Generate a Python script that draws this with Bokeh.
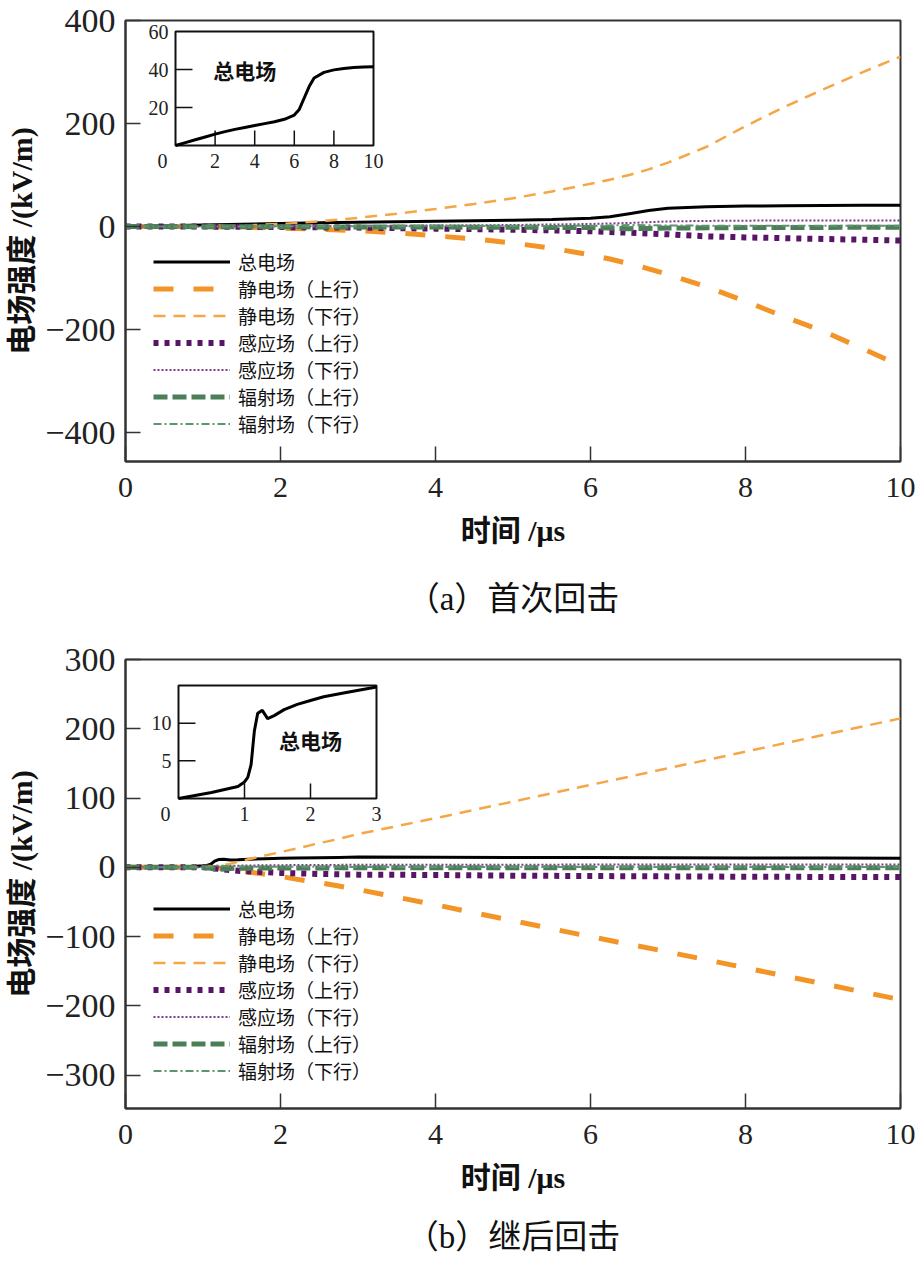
from bokeh.plotting import figure
from bokeh.models import Range1d, Legend, LegendItem, Label, FixedTicker, LinearAxis
from bokeh.layouts import column
from bokeh.core.properties import value
from bokeh.embed import file_html
from bokeh.resources import INLINE

# ---------------- data ----------------
# (a) first return stroke
t_a = [0, 0.5, 1, 1.5, 2, 2.5, 3, 3.5, 4, 4.5, 5, 5.5, 6, 6.25, 6.5, 6.75, 7, 7.5, 8, 8.5, 9, 9.5, 10]
total_a = [0, 1.5, 3, 4.5, 6, 7.3, 8.5, 9.5, 10.5, 11.5, 12.5, 13.8, 16, 19, 25, 31, 35.5, 38.5, 39.8, 40.5, 41, 41.3, 41.5]
static_up_a = [0, 0, 0, -1, -3, -5, -8, -12, -18, -24, -32, -42, -55, -63, -72, -82, -93, -117, -145, -175, -203, -236, -270]
static_down_a = [0, 0, 0.5, 2, 5, 10, 17, 25, 34, 44, 55, 68, 83, 91, 100, 111, 124, 155, 195, 232, 266, 299, 330]
ind_up_a = [0, 0, 0, -0.5, -1, -1.5, -2, -3, -4, -5, -6, -7.5, -9, -10.5, -12, -13.5, -15, -19, -21, -22.5, -24, -25.5, -27]
ind_down_a = [0, 0, 0, 0.3, 0.5, 0.8, 1, 1.5, 2, 2.5, 3, 4, 5, 6, 7, 8.5, 10, 11, 11.5, 11.8, 12, 12, 12]
rad_up_a = [0, 0, -0.2, -0.3, -0.5, -0.6, -0.7, -0.8, -1, -1.2, -1.4, -1.6, -2, -3, -4, -3.5, -3, -2.5, -2, -1.8, -1.6, -1.5, -1.5]
rad_down_a = [0, 0, 0.2, 0.3, 0.5, 0.6, 0.7, 0.8, 1, 1.1, 1.2, 1.3, 1.5, 2.2, 3, 2.6, 2, 1.8, 1.5, 1.5, 1.5, 1.5, 1.5]

# (b) subsequent return stroke
t_b = [0, 0.5, 0.9, 1.0, 1.05, 1.1, 1.15, 1.2, 1.27, 1.35, 1.45, 1.6, 1.8, 2.0, 2.2, 2.5, 2.75, 3, 4, 5, 6, 7, 8, 9, 10]
total_b = [0, 0.8, 1.6, 2.2, 2.8, 4.5, 9, 11.3, 11.7, 10.6, 11, 11.8, 12.5, 13, 13.5, 14, 14.4, 14.8, 14.6, 14.3, 14.1, 13.9, 13.7, 13.5, 13.3]
static_up_b = [0, 0, 0, 0, 0, 0, -0.5, -1, -2, -3, -4.5, -7, -10, -13, -17, -22, -27, -32, -54, -77, -100, -122, -145, -168, -191]
static_down_b = [0, 0, 0, 0, 0, 0.5, 1, 2, 3.5, 5, 8, 12, 17, 22, 27, 35, 41, 48, 71, 95, 119, 143, 167, 191, 215]
ind_up_b = [0, 0, 0, 0, -0.3, -0.8, -1.5, -2, -3, -4, -5, -6, -7, -8, -8.5, -9.5, -10, -10.5, -11, -12, -12.5, -13, -13.5, -13.8, -14]
ind_down_b = [0, 0, 0, 0, 0.1, 0.3, 0.6, 1, 1.5, 2, 2.4, 2.8, 3, 3.2, 3.3, 3.5, 3.6, 3.7, 3.8, 3.9, 4, 4, 4, 4, 4]
rad_up_b = [0, 0, 0, -0.2, -0.5, -1.2, -2.5, -2.8, -2.2, -1.6, -1.3, -1.1, -1, -0.9, -0.8, -0.8, -0.7, -0.7, -0.6, -0.6, -0.5, -0.5, -0.5, -0.5, -0.5]
rad_down_b = [0, 0, 0, 0.2, 0.5, 1.2, 2.5, 2.8, 2.2, 1.6, 1.3, 1.1, 1, 0.9, 0.8, 0.8, 0.7, 0.7, 0.6, 0.6, 0.5, 0.5, 0.5, 0.5, 0.5]

series_names = ["总电场", "静电场（上行）", "静电场（下行）", "感应场（上行）",
                "感应场（下行）", "辐射场（上行）", "辐射场（下行）"]
x_ticks = [0, 2, 4, 6, 8, 10]
y_ticks_a = [-400, -200, 0, 200, 400]
y_ticks_b = [-300, -200, -100, 0, 100, 200, 300]
inset_a_xticks = [0, 2, 4, 6, 8, 10]
inset_a_yticks = [20, 40, 60]
inset_b_xticks = [0, 1, 2, 3]
inset_b_yticks = [5, 10]
captions = ["（a）首次回击", "（b）继后回击"]

# ---------------- styles ----------------
STYLES = [
    dict(color="#000000", line_width=3, line_dash="solid"),
    dict(color="#f39426", line_width=5, line_dash="20 20"),
    dict(color="#f5a646", line_width=2.5, line_dash="12 8"),
    dict(color="#5a1466", line_width=6, line_dash="5 6"),
    dict(color="#7d3a8c", line_width=2, line_dash="2 2"),
    dict(color="#4c7f57", line_width=5, line_dash="14 5"),
    dict(color="#5d9470", line_width=2, line_dash="8 3 2 3"),
]
NUM_FONT = "Liberation Serif"
CJK_FONT = "Noto Sans CJK SC"
MIX_FONT = "Liberation Serif, Noto Sans CJK SC"

W = 916
BL, BR = 125, 16
FW = W - BL - BR


def inset_ranges(x0, x1, y0, y1, left, right, top, bottom, fh):
    sx = (right - left) / (x1 - x0)
    xs = x0 - left / sx
    sy = (bottom - top) / (y1 - y0)
    ys = y0 - (fh - bottom) / sy
    return Range1d(xs, xs + FW / sx), Range1d(ys, ys + fh / sy), sx, sy


def make_panel(height, top_b, bot_b, yr, yticks, t, series, inset, caption, cap_lso, cap_so):
    p = figure(width=W, height=height, x_range=Range1d(0, 10), y_range=Range1d(*yr),
               output_backend="svg", toolbar_location=None,
               min_border_left=BL, min_border_right=BR,
               min_border_top=top_b, min_border_bottom=bot_b)
    fh = height - top_b - bot_b
    p.xgrid.visible = False
    p.ygrid.visible = False
    p.outline_line_color = "#333333"
    p.outline_line_width = 2
    p.background_fill_color = "white"

    for ax in (p.xaxis[0], p.yaxis[0]):
        ax.axis_line_color = "#333333"
        ax.axis_line_width = 2
        ax.major_tick_in = 15
        ax.major_tick_out = 0
        ax.minor_tick_line_color = None
        ax.major_tick_line_color = "#333333"
        ax.major_tick_line_width = 1.5
        ax.major_label_text_font = NUM_FONT
        ax.major_label_text_color = "#222222"
        ax.axis_label_text_font = MIX_FONT
        ax.axis_label_text_font_style = "bold"
        ax.axis_label_text_font_size = "30px"
        ax.axis_label_text_color = "#111111"
    p.xaxis.ticker = FixedTicker(ticks=x_ticks)
    p.yaxis.ticker = FixedTicker(ticks=yticks)
    p.xaxis.major_label_text_font_size = "30px"
    p.yaxis.major_label_text_font_size = "34px"
    p.xaxis.major_label_standoff = 16
    p.yaxis.major_label_standoff = 10
    p.xaxis.axis_label = "时间 /μs"
    p.yaxis.axis_label = "电场强度 /(kV/m)"
    p.xaxis.axis_label_standoff = 14
    p.yaxis.axis_label_standoff = 4

    renderers = []
    for ys, st in zip(series, STYLES):
        r = p.line(t, ys, line_color=st["color"], line_width=st["line_width"],
                   line_dash=st["line_dash"])
        renderers.append(r)

    legend = Legend(items=[LegendItem(label=n, renderers=[r]) for n, r in zip(series_names, renderers)],
                    location=(28, 24), padding=0, margin=0, spacing=0,
                    label_height=27, glyph_height=27, glyph_width=77, label_standoff=8,
                    label_text_font=CJK_FONT, label_text_font_size="19px",
                    label_text_color="#111111",
                    border_line_alpha=0, background_fill_alpha=0)
    p.add_layout(legend)

    # ----- inset -----
    (ix0, ix1, iy0, iy1, left, right, top, bottom, it, iv, xt, yt, xtick_pos, ytick_pos,
     lab_x, lab_y) = inset
    xr, yr2, sx, sy = inset_ranges(ix0, ix1, iy0, iy1, left, right, top, bottom, fh)
    p.extra_x_ranges = {"ix": xr}
    p.extra_y_ranges = {"iy": yr2}
    p.quad(left=[ix0], right=[ix1], bottom=[iy0], top=[iy1], x_range_name="ix", y_range_name="iy",
           fill_color="white", line_color="#111111", line_width=2)
    # inward ticks
    p.segment(x0=xtick_pos, y0=[iy0] * len(xtick_pos), x1=xtick_pos,
              y1=[iy0 + 15 / sy] * len(xtick_pos), x_range_name="ix", y_range_name="iy",
              line_color="#111111", line_width=1.5)
    p.segment(x0=[ix0] * len(ytick_pos), y0=ytick_pos, x1=[ix0 + 17 / sx] * len(ytick_pos),
              y1=ytick_pos, x_range_name="ix", y_range_name="iy",
              line_color="#111111", line_width=1.5)
    xoffs = [-13 if v == ix0 else 0 for v in xt]
    p.text(x=xt, y=[iy0] * len(xt), text=[f"{v:g}" for v in xt], x_offset=xoffs, y_offset=8,
           x_range_name="ix", y_range_name="iy", text_align="center", text_baseline="top",
           text_font=value(NUM_FONT), text_font_size="20px", text_color="#222222")
    p.text(x=[ix0] * len(yt), y=yt, text=[f"{v:g}" for v in yt], x_offset=-7,
           x_range_name="ix", y_range_name="iy", text_align="right", text_baseline="middle",
           text_font=value(NUM_FONT), text_font_size="20px", text_color="#222222")
    p.line(it, iv, x_range_name="ix", y_range_name="iy", line_color="black", line_width=3)
    p.add_layout(Label(x=lab_x, y=lab_y, x_range_name="ix", y_range_name="iy", text="总电场",
                       text_font=CJK_FONT, text_font_style="bold", text_font_size="21px",
                       text_align="center", text_baseline="middle", text_color="#111111"))

    # caption: an extra, tick-less axis below the x axis carries the caption as its label
    cap_axis = LinearAxis(ticker=FixedTicker(ticks=[]), axis_label=caption,
                          axis_line_color=None, major_tick_line_color=None,
                          minor_tick_line_color=None, major_tick_in=0, major_tick_out=0,
                          major_label_standoff=cap_lso, axis_label_standoff=cap_so,
                          axis_label_text_font=MIX_FONT, axis_label_text_font_size="33px",
                          axis_label_text_font_style="normal", axis_label_text_color="#111111")
    p.add_layout(cap_axis, "below")
    return p


n_b3 = sum(1 for v in t_b if v <= 3)

# panel (a): height 630, frame at y 20..461
p1 = make_panel(630, 20, 169, (-456, 400), y_ticks_a, t_a,
                [total_a, static_up_a, static_down_a, ind_up_a, ind_down_a, rad_up_a, rad_down_a],
                (0, 10, 0, 60, 50, 248, 11, 125, t_a, total_a,
                 inset_a_xticks, inset_a_yticks, [2, 4, 6, 8], [20, 40], 3.5, 40),
                captions[0], 5, 31)

# panel (b): height 631, frame at y 659..1108 (page)
p2 = make_panel(631, 29, 153, (-348, 300), y_ticks_b, t_b,
                [total_b, static_up_b, static_down_b, ind_up_b, ind_down_b, rad_up_b, rad_down_b],
                (0, 3, 0, 15, 53, 251, 26, 139, t_b[:n_b3], total_b[:n_b3],
                 inset_b_xticks, inset_b_yticks, [1, 2], [5, 10], 2.0, 7.8),
                captions[1], 0, 22)

layout = column(p1, p2, spacing=0)
open("out.html", "w").write(file_html(layout, INLINE))
